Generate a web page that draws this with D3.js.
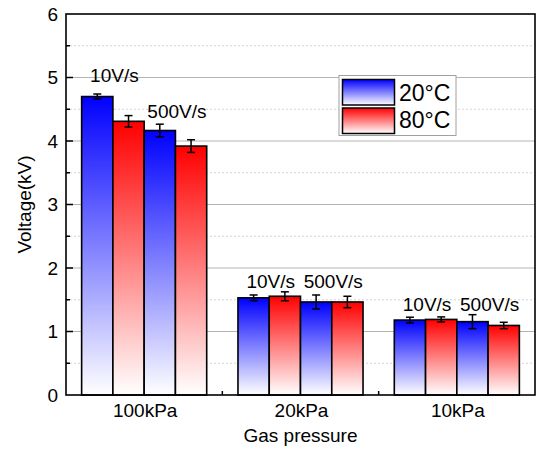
<!DOCTYPE html>
<html>
<head>
<meta charset="utf-8">
<script src="https://cdn.jsdelivr.net/npm/d3@7"></script>
<style>
  body { margin: 0; background: #fff; }
  svg { font-family: "Liberation Sans", Arial, sans-serif; display: block; }
</style>
</head>
<body>
<svg id="chart" width="538" height="449"></svg>
<script>
// ---- data ----
const groups = ["100kPa", "20kPa", "10kPa"];
const seriesNames = ["20°C 10V/s", "80°C 10V/s", "20°C 500V/s", "80°C 500V/s"];
const seriesTemp = ["20°C", "80°C", "20°C", "80°C"];
const v20_10 = [4.70, 1.53, 1.18];
const v80_10 = [4.31, 1.555, 1.19];
const v20_500 = [4.165, 1.465, 1.155];
const v80_500 = [3.92, 1.465, 1.095];
const e20_10 = [0.04, 0.045, 0.045];
const e80_10 = [0.09, 0.07, 0.04];
const e20_500 = [0.10, 0.11, 0.11];
const e80_500 = [0.10, 0.09, 0.05];
const legendLabels = ["20°C", "80°C"];
const yTicks = [0, 1, 2, 3, 4, 5, 6];
const yMinorTicks = [0.5, 1.5, 2.5, 3.5, 4.5, 5.5];
// rate annotations: label, group, pair boundary (between series index k and k+1), value height
const rateLabels = ["10V/s", "500V/s"];
const rateAnnoY = [[4.93, 4.367], [1.685, 1.685], [1.328, 1.328]];

const values = [v20_10, v80_10, v20_500, v80_500];
const errors = [e20_10, e80_10, e20_500, e80_500];

// ---- layout ----
const svg = d3.select("#chart");
const L = 66, R = 535, T = 14, B = 395;

const x = d3.scaleBand().domain(groups).range([L, R]).padding(0);
const xi = d3.scaleBand().domain(d3.range(seriesNames.length))
  .range([x.bandwidth() * 0.1, x.bandwidth() * 0.9]).padding(0);
const y = d3.scaleLinear().domain([0, 6]).range([B, T]);

const colorTop = { "20°C": "#0000ff", "80°C": "#ff0000" };

// gradients
const defs = svg.append("defs");
legendLabels.forEach((t, i) => {
  const g = defs.append("linearGradient").attr("id", "grad" + i)
    .attr("x1", 0).attr("y1", 0).attr("x2", 0).attr("y2", 1);
  g.append("stop").attr("offset", "0%").attr("stop-color", colorTop[t]);
  g.append("stop").attr("offset", "100%").attr("stop-color", "#ffffff");
});
const gradId = t => "url(#grad" + legendLabels.indexOf(t) + ")";

// grid lines
svg.append("g").selectAll("line.minor").data(yMinorTicks).join("line")
  .attr("x1", L).attr("x2", R).attr("y1", d => y(d)).attr("y2", d => y(d))
  .attr("stroke", "#d4d4d4").attr("stroke-width", 1).attr("stroke-dasharray", "2,2");
svg.append("g").selectAll("line.major").data(yTicks.filter(d => d > 0 && d < 6)).join("line")
  .attr("x1", L).attr("x2", R).attr("y1", d => y(d)).attr("y2", d => y(d))
  .attr("stroke", "#b4b4b4").attr("stroke-width", 1);

// bars
const barData = [];
groups.forEach((g, gi) => {
  seriesNames.forEach((s, si) => {
    barData.push({ g, si, v: values[si][gi], e: errors[si][gi], t: seriesTemp[si] });
  });
});

svg.append("g").selectAll("rect").data(barData).join("rect")
  .attr("x", d => x(d.g) + xi(d.si))
  .attr("y", d => y(d.v))
  .attr("width", xi.bandwidth())
  .attr("height", d => y(0) - y(d.v))
  .attr("fill", d => gradId(d.t))
  .attr("stroke", "#000").attr("stroke-width", 1.6);

// error bars
const eg = svg.append("g").attr("stroke", "#000").attr("stroke-width", 1.5);
barData.forEach(d => {
  const cx = x(d.g) + xi(d.si) + xi.bandwidth() / 2;
  eg.append("line").attr("x1", cx).attr("x2", cx).attr("y1", y(d.v + d.e)).attr("y2", y(d.v - d.e));
  eg.append("line").attr("x1", cx - 4).attr("x2", cx + 4).attr("y1", y(d.v + d.e)).attr("y2", y(d.v + d.e));
  eg.append("line").attr("x1", cx - 4).attr("x2", cx + 4).attr("y1", y(d.v - d.e)).attr("y2", y(d.v - d.e));
});

// rate annotations
groups.forEach((g, gi) => {
  rateLabels.forEach((lab, k) => {
    const bx = x(g) + xi(2 * k + 1) + 1.5;
    svg.append("text").attr("x", bx).attr("y", y(rateAnnoY[gi][k]))
      .attr("text-anchor", "middle").attr("font-size", 19).attr("fill", "#000")
      .text(lab);
  });
});

// y-axis ticks (inward)
svg.append("g").selectAll("line").data(yTicks.filter(d => d > 0 && d < 6)).join("line")
  .attr("x1", L).attr("x2", L + 7).attr("y1", d => y(d)).attr("y2", d => y(d))
  .attr("stroke", "#000").attr("stroke-width", 1.5);
svg.append("g").selectAll("line").data(yMinorTicks).join("line")
  .attr("x1", L).attr("x2", L + 4).attr("y1", d => y(d)).attr("y2", d => y(d))
  .attr("stroke", "#000").attr("stroke-width", 1.5);

// y tick labels
svg.append("g").selectAll("text").data(yTicks).join("text")
  .attr("x", L - 8).attr("y", d => y(d)).attr("dy", "0.36em")
  .attr("text-anchor", "end").attr("font-size", 19).attr("fill", "#000")
  .text(d => d);

// x ticks at group boundaries
svg.append("g").selectAll("line").data(groups.slice(1)).join("line")
  .attr("x1", d => x(d)).attr("x2", d => x(d)).attr("y1", B).attr("y2", B - 4)
  .attr("stroke", "#000").attr("stroke-width", 1.5);

// x tick labels
svg.append("g").selectAll("text").data(groups).join("text")
  .attr("x", d => x(d) + x.bandwidth() / 2 + 1).attr("y", 417)
  .attr("text-anchor", "middle").attr("font-size", 19).attr("fill", "#000")
  .text(d => d);

// frame
svg.append("rect").attr("x", L).attr("y", T).attr("width", R - L).attr("height", B - T)
  .attr("fill", "none").attr("stroke", "#000").attr("stroke-width", 1.6);

// axis titles
svg.append("text").attr("x", (L + R) / 2).attr("y", 442)
  .attr("text-anchor", "middle").attr("font-size", 19).attr("fill", "#000")
  .text("Gas pressure");
svg.append("text").attr("transform", `translate(31,${(T + B) / 2}) rotate(-90)`)
  .attr("text-anchor", "middle").attr("font-size", 19).attr("fill", "#000")
  .text("Voltage(kV)");

// legend
const lg = svg.append("g");
lg.append("rect").attr("x", 339).attr("y", 75.5).attr("width", 117).attr("height", 60)
  .attr("fill", "#fff").attr("stroke", "#a0a0a0").attr("stroke-width", 1);
legendLabels.forEach((t, i) => {
  lg.append("rect").attr("x", 342.5).attr("y", 79.5 + i * 28.5).attr("width", 52).attr("height", 25.5)
    .attr("fill", gradId(t)).attr("stroke", "#000").attr("stroke-width", 1.5);
  lg.append("text").attr("x", 399).attr("y", 100.5 + i * 27)
    .attr("font-size", 23).attr("fill", "#000").text(t);
});
</script>
</body>
</html>
